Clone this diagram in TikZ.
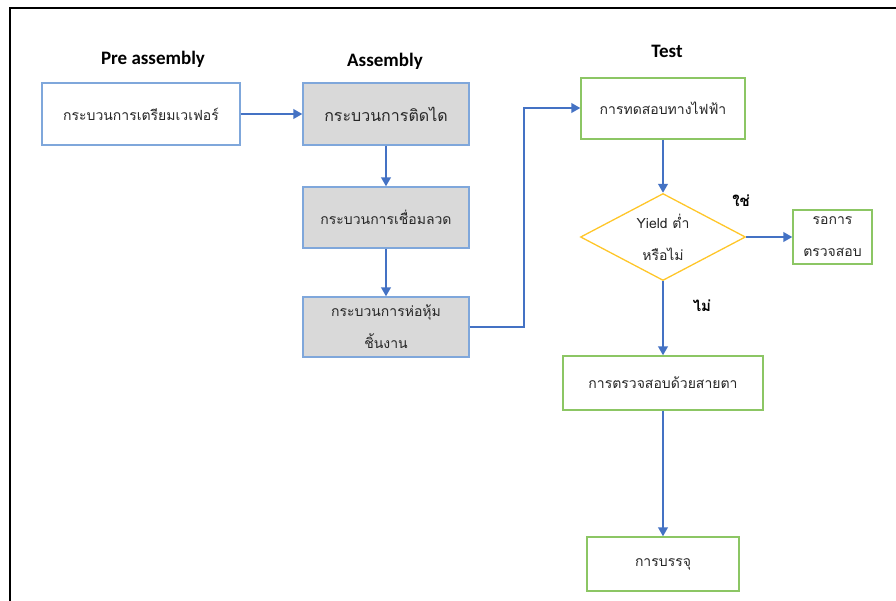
\documentclass[tikz,border=0pt]{standalone}
\usepackage{fontspec}
\setmainfont{Carlito}
\newfontfamily\thaifont[Script=Thai]{Loma}
\usetikzlibrary{shapes.geometric,arrows.meta,calc}
\definecolor{flowblue}{HTML}{4472C4}
\definecolor{edgeblue}{HTML}{7FA7DB}
\definecolor{edgegreen}{HTML}{8CC664}
\definecolor{edgegold}{HTML}{FFC629}
\definecolor{boxgray}{HTML}{D9D9D9}
\definecolor{ink}{HTML}{262626}
\tikzset{
  x=1pt, y=1pt,
  heading/.style={font=\fontsize{19}{22}\selectfont\bfseries, text=black, inner sep=0pt},
  thaitext/.style={font=\thaifont\fontsize{14}{32}\selectfont},
  prebox/.style={draw=edgeblue, line width=1.3pt, fill=white, inner sep=0pt, text=ink,
    thaitext, align=center},
  asmbox/.style={prebox, fill=boxgray},
  testbox/.style={draw=edgegreen, line width=1.3pt, fill=white, inner sep=0pt, text=ink,
    thaitext, align=center},
  decision/.style={diamond, shape aspect=1.9, draw=edgegold, line width=1.3pt, inner sep=0pt,
    text=ink, thaitext, align=center},
  answer/.style={font=\thaifont\fontsize{15}{18}\selectfont\bfseries, text=black, inner sep=0pt},
  flow/.style={draw=flowblue, line width=2.3pt, -{Triangle[length=9pt,width=9.5pt]}},
}
% box given by its left, top, right and bottom edges, measured downwards from the top
\newcommand{\boxat}[6]{%
  \node[#2, minimum width={#5-#3}, minimum height={#6-#4}] (#1) at ({(#3+#5)/2},{-(#4+#6)/2})}
\begin{document}
\begin{tikzpicture}
\useasboundingbox (0,-600) rectangle (896,0);
\begin{scope}
  \clip (0,-600) rectangle (896,0);
  % outer page frame
  \draw[black, line width=2.4pt] (10,-650) -- (10,-8) -- (950,-8);
\end{scope}

% column headings
\node[heading] (hpre) at (153,-59) {Pre assembly};
\node[heading] (hasm) at (385,-61) {Assembly};
\node[heading] (htest) at (667,-51) {Test};

% pre assembly and assembly steps
\boxat{pre}{prebox}{42}{83}{240}{145} {กระบวนการเตรียมเวเฟอร์};
\boxat{die}{asmbox}{303}{83}{469}{145} {\fontsize{16}{32}\selectfont กระบวนการติดได};
\boxat{wire}{asmbox}{303}{187}{469}{248} {กระบวนการเชื่อมลวด};
\boxat{mold}{asmbox}{303}{297}{469}{357} {กระบวนการห่อหุ้ม\\ชิ้นงาน};

% test steps
\boxat{etest}{testbox}{581}{78}{745}{139} {การทดสอบทางไฟฟ้า};
\node[decision, minimum width=165pt, minimum height=87pt] (yield) at (663,-237) {Yield ต่ำ\\หรือไม่};
\boxat{wait}{testbox}{793}{210}{872}{264} {รอการ\\ตรวจสอบ};
\boxat{visual}{testbox}{563}{356}{763}{410} {การตรวจสอบด้วยสายตา};
\boxat{pack}{testbox}{587}{537}{739}{591} {การบรรจุ};

% decision answers
\node[answer] (yes) at (741,-201) {ใช่};
\node[answer] (no) at (702,-306) {ไม่};

% connectors, kept strictly horizontal or vertical
\coordinate (bendlow) at (524,-327);
\coordinate (bendhigh) at (524,-108);
\draw[flow] (pre.east) -- (pre.east -| die.west);
\draw[flow] (die.south) -- (die.south |- wire.north);
\draw[flow] (wire.south) -- (wire.south |- mold.north);
\draw[flow] (mold.east |- bendlow) -- (bendlow) -- (bendhigh) -- (bendhigh -| etest.west);
\draw[flow] (etest.south) -- (etest.south |- yield.north);
\draw[flow] (yield.east) -- (yield.east -| wait.west);
\draw[flow] (yield.south) -- (yield.south |- visual.north);
\draw[flow] (visual.south) -- (visual.south |- pack.north);
\end{tikzpicture}
\end{document}
